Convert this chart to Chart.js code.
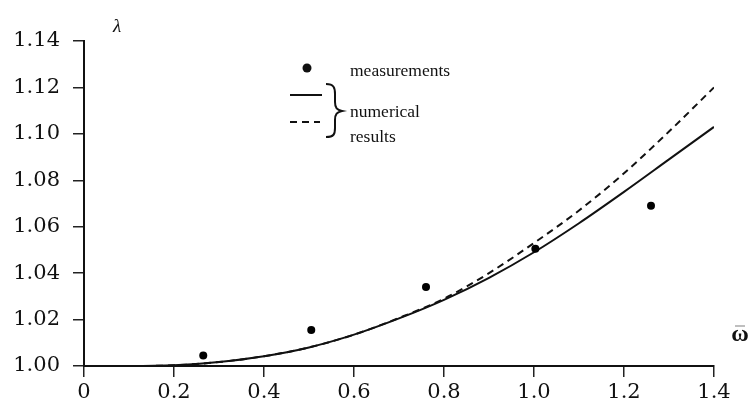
<!DOCTYPE html>
<html>
<head>
<meta charset="utf-8">
<script src="https://cdn.jsdelivr.net/npm/chart.js@4.4.1/dist/chart.umd.min.js"></script>
<style>
  html, body { margin: 0; padding: 0; background: #fff; }
  #wrap { width: 748px; height: 412px; position: relative; }
</style>
</head>
<body>
<div id="wrap"><canvas id="c" width="748" height="412"></canvas></div>
<script>
// ---- data ----
const curveX = [0, 0.1, 0.2, 0.3, 0.4, 0.5, 0.6, 0.7, 0.8, 0.9, 1.0, 1.1, 1.2, 1.3, 1.4];
const numericalSolid = [1.000, 1.000, 1.0003, 1.0017, 1.0042, 1.008, 1.0135, 1.0205, 1.0285, 1.038, 1.049, 1.0615, 1.075, 1.089, 1.103];
const numericalDashed = [1.000, 1.000, 1.0003, 1.0017, 1.0042, 1.008, 1.0135, 1.0207, 1.029, 1.040, 1.053, 1.067, 1.083, 1.101, 1.120];
const measX = [0.265, 0.505, 0.76, 1.003, 1.26];
const measY = [1.0045, 1.0155, 1.034, 1.0505, 1.069];
const xTickValues = [0, 0.2, 0.4, 0.6, 0.8, 1.0, 1.2, 1.4];
const yTickValues = [1.00, 1.02, 1.04, 1.06, 1.08, 1.10, 1.12, 1.14];
const legendTexts = ["measurements", "numerical", "results"];
const yAxisTitle = "λ";
const xAxisTitle = "ω";

const toPts = (xs, ys) => xs.map((x, i) => ({ x: x, y: ys[i] }));

const serif = "'Liberation Serif', 'DejaVu Serif', serif";
const tickSerif = "'DejaVu Serif', 'Liberation Serif', serif";

const annotate = {
  id: 'annotate',
  afterDraw(chart) {
    const ctx = chart.ctx;
    ctx.save();
    ctx.fillStyle = '#111';
    ctx.strokeStyle = '#111';
    // axis titles
    ctx.font = "italic 19px " + serif;
    ctx.textAlign = 'center';
    ctx.textBaseline = 'middle';
    ctx.fillText(yAxisTitle, 117, 27);
    ctx.font = "bold 24px " + serif;
    ctx.fillText(xAxisTitle, 740, 335);
    // bar over omega
    ctx.strokeStyle = '#aaa';
    ctx.lineWidth = 1.5;
    ctx.beginPath();
    ctx.moveTo(735, 326); ctx.lineTo(745, 326);
    ctx.stroke();
    ctx.strokeStyle = '#111';

    // legend: dot
    ctx.beginPath();
    ctx.arc(307, 68, 4.5, 0, Math.PI * 2);
    ctx.fill();
    // solid sample
    ctx.lineWidth = 2;
    ctx.beginPath();
    ctx.moveTo(290, 95); ctx.lineTo(322, 95);
    ctx.stroke();
    // dashed sample
    ctx.setLineDash([7, 5]);
    ctx.beginPath();
    ctx.moveTo(290, 122); ctx.lineTo(320, 122);
    ctx.stroke();
    ctx.setLineDash([]);
    // brace
    ctx.lineWidth = 2;
    ctx.beginPath();
    ctx.moveTo(326, 84);
    ctx.bezierCurveTo(334, 84, 335, 88, 335, 94);
    ctx.lineTo(335, 102);
    ctx.bezierCurveTo(335, 108, 337, 110, 342, 111);
    ctx.bezierCurveTo(337, 112, 335, 114, 335, 120);
    ctx.lineTo(335, 128);
    ctx.bezierCurveTo(335, 134, 334, 137, 326, 137);
    ctx.stroke();
    // legend texts
    ctx.font = "17.5px " + serif;
    ctx.textAlign = 'left';
    ctx.textBaseline = 'alphabetic';
    ctx.fillText(legendTexts[0], 350, 76);
    ctx.fillText(legendTexts[1], 350, 117);
    ctx.fillText(legendTexts[2], 350, 142);
    ctx.restore();
  }
};

new Chart(document.getElementById('c'), {
  type: 'scatter',
  data: {
    datasets: [
      {
        label: 'measurements',
        data: toPts(measX, measY),
        showLine: false,
        pointRadius: 4,
        pointBackgroundColor: '#000',
        pointBorderColor: '#000',
        pointBorderWidth: 0
      },
      {
        label: 'numerical (solid)',
        data: toPts(curveX, numericalSolid),
        showLine: true,
        borderColor: '#111',
        borderWidth: 2,
        pointRadius: 0,
        cubicInterpolationMode: 'monotone',
        fill: false
      },
      {
        label: 'numerical (dashed)',
        data: toPts(curveX, numericalDashed),
        showLine: true,
        borderColor: '#111',
        borderWidth: 2,
        borderDash: [7, 5],
        pointRadius: 0,
        cubicInterpolationMode: 'monotone',
        fill: false
      }
    ]
  },
  options: {
    responsive: false,
    animation: false,
    devicePixelRatio: 1,
    layout: { padding: { left: 0, right: 34, top: 41, bottom: 0 } },
    plugins: { legend: { display: false }, tooltip: { enabled: false } },
    scales: {
      x: {
        type: 'linear',
        min: 0, max: 1.4,
        afterFit(scale) { scale.height = 46; },
        afterBuildTicks(scale) { scale.ticks = xTickValues.map(v => ({ value: v })); },
        ticks: {
          color: '#111',
          font: { family: tickSerif, size: 21 },
          padding: 3,
          maxRotation: 0,
          autoSkip: false,
          callback: (v) => v === 0 ? '0' : Number(v).toFixed(1)
        },
        grid: { display: true, drawOnChartArea: false, drawTicks: true, tickLength: 11, color: '#222', lineWidth: 1.5 },
        border: { display: true, color: '#111', width: 2 }
      },
      y: {
        type: 'linear',
        min: 1.00, max: 1.14,
        afterFit(scale) { scale.width = 84; },
        afterBuildTicks(scale) { scale.ticks = yTickValues.map(v => ({ value: v })); },
        ticks: {
          color: '#111',
          font: { family: tickSerif, size: 21 },
          padding: 13,
          autoSkip: false,
          callback: (v) => Number(v).toFixed(2)
        },
        grid: { display: true, drawOnChartArea: false, drawTicks: true, tickLength: 11, color: '#222', lineWidth: 1.5 },
        border: { display: true, color: '#111', width: 2 }
      }
    }
  },
  plugins: [annotate]
});
</script>
</body>
</html>
